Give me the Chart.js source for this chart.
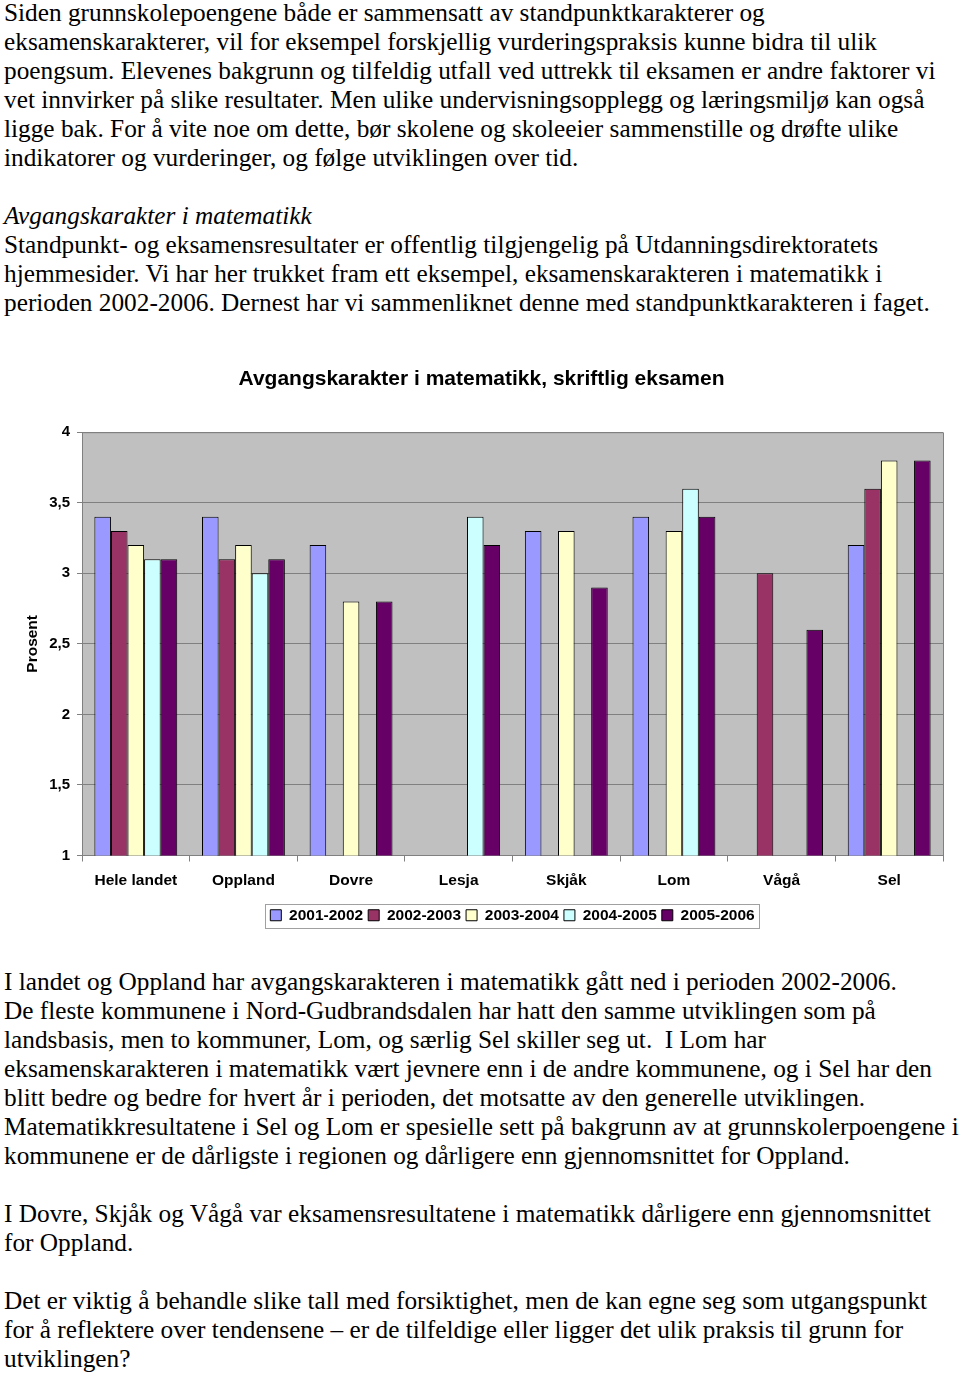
<!DOCTYPE html>
<html>
<head>
<meta charset="utf-8">
<script src="https://cdn.jsdelivr.net/npm/chart.js@4"></script>
<style>
  html, body { margin: 0; padding: 0; background: #fff; }
  body { width: 960px; height: 1373px; position: relative; overflow: hidden; }
  .txt {
    position: absolute; left: 4px;
    font-family: "Liberation Serif", "Times New Roman", serif;
    font-size: 25.3px; line-height: 29px; color: #000;
    white-space: pre;
  }
  #chartBox { position: absolute; left: 0; top: 355px; width: 960px; height: 578px; }
</style>
</head>
<body>
<div class="txt" style="top:-2px">Siden grunnskolepoengene både er sammensatt av standpunktkarakterer og
eksamenskarakterer, vil for eksempel forskjellig vurderingspraksis kunne bidra til ulik
poengsum. Elevenes bakgrunn og tilfeldig utfall ved uttrekk til eksamen er andre faktorer vi
vet innvirker på slike resultater. Men ulike undervisningsopplegg og læringsmiljø kan også
ligge bak. For å vite noe om dette, bør skolene og skoleeier sammenstille og drøfte ulike
indikatorer og vurderinger, og følge utviklingen over tid.

<i>Avgangskarakter i matematikk</i>
Standpunkt- og eksamensresultater er offentlig tilgjengelig på Utdanningsdirektoratets
hjemmesider. Vi har her trukket fram ett eksempel, eksamenskarakteren i matematikk i
perioden 2002-2006. Dernest har vi sammenliknet denne med standpunktkarakteren i faget.</div>

<div id="chartBox"><canvas id="karakterBarra"></canvas></div>

<div class="txt" style="top:967px">I landet og Oppland har avgangskarakteren i matematikk gått ned i perioden 2002-2006.
De fleste kommunene i Nord-Gudbrandsdalen har hatt den samme utviklingen som på
landsbasis, men to kommuner, Lom, og særlig Sel skiller seg ut.  I Lom har
eksamenskarakteren i matematikk vært jevnere enn i de andre kommunene, og i Sel har den
blitt bedre og bedre for hvert år i perioden, det motsatte av den generelle utviklingen.
Matematikkresultatene i Sel og Lom er spesielle sett på bakgrunn av at grunnskolerpoengene i
kommunene er de dårligste i regionen og dårligere enn gjennomsnittet for Oppland.

I Dovre, Skjåk og Vågå var eksamensresultatene i matematikk dårligere enn gjennomsnittet
for Oppland.

Det er viktig å behandle slike tall med forsiktighet, men de kan egne seg som utgangspunkt
for å reflektere over tendensene – er de tilfeldige eller ligger det ulik praksis til grunn for
utviklingen?</div>

<script>
var kommuner = ["Hele landet", "Oppland", "Dovre", "Lesja", "Skjåk", "Lom", "Vågå", "Sel"];
var periode = ["2001-2002", "2002-2003", "2003-2004", "2004-2005", "2005-2006"];
var snitt0102 = [3.4, 3.4, 3.2, null, 3.3, 3.4, null, 3.2];
var snitt0203 = [3.3, 3.1, null, null, null, null, 3.0, 3.6];
var snitt0304 = [3.2, 3.2, 2.8, null, 3.3, 3.3, null, 3.8];
var snitt0405 = [3.1, 3.0, null, 3.4, null, 3.6, null, null];
var snitt0506 = [3.1, 3.1, 2.8, 3.2, 2.9, 3.4, 2.6, 3.8];
var farger = ["#9999FF", "#993366", "#FFFFCC", "#CCFFFF", "#660066"];

var serier = [snitt0102, snitt0203, snitt0304, snitt0405, snitt0506];
var datasets = serier.map(function(verdier, i) {
    return {
        label: periode[i],
        data: verdier,
        backgroundColor: farger[i],
        borderColor: "#000",
        borderWidth: 1,
        borderSkipped: false,
        categoryPercentage: 0.77,
        barPercentage: 1.0
    };
});

var sans = "'Liberation Sans', Arial, sans-serif";

// grå plottbakgrunn, ramme rundt plottet og ramme rundt legenden
var rammer = {
    id: 'rammer',
    beforeDraw: function(chart) {
        var a = chart.chartArea, c = chart.ctx;
        c.save();
        c.fillStyle = "#c0c0c0";
        c.fillRect(a.left, a.top, a.right - a.left, a.bottom - a.top);
        c.restore();
    },
    afterDraw: function(chart) {
        var a = chart.chartArea, c = chart.ctx;
        c.save();
        c.strokeStyle = "#808080";
        c.lineWidth = 1;
        c.beginPath();
        c.moveTo(a.left, a.top + 0.5);
        c.lineTo(a.right + 0.5, a.top + 0.5);
        c.lineTo(a.right + 0.5, a.bottom);
        c.stroke();
        var hb = chart.legend.legendHitBoxes;
        if (hb && hb.length) {
            var x0 = hb[0].left - 5;
            var last = hb[hb.length - 1];
            var x1 = last.left + last.width + 5;
            var y0 = hb[0].top - 4, y1 = hb[0].top + hb[0].height + 4;
            c.strokeStyle = "#a0a0a0";
            c.strokeRect(Math.round(x0) + 0.5, Math.round(y0) + 0.5, Math.round(x1 - x0), Math.round(y1 - y0));
        }
        c.restore();
    }
};

var karakterBarra = document.getElementById("karakterBarra");
var myBarChart = new Chart(karakterBarra, {
    type: 'bar',
    data: {
        labels: kommuner,
        datasets: datasets
    },
    options: {
        responsive: true,
        maintainAspectRatio: false,
        animation: false,
        layout: { padding: { left: 20, right: 17, top: 0, bottom: 0 } },
        plugins: {
            title: {
                display: true,
                text: 'Avgangskarakter i matematikk, skriftlig eksamen',
                color: '#000',
                font: { family: sans, size: 21, weight: 'bold' },
                padding: { top: 12, bottom: 40 }
            },
            legend: {
                display: true,
                position: 'bottom',
                fullSize: false,
                labels: {
                    color: '#000',
                    font: { family: sans, size: 15.5, weight: 'bold' },
                    boxWidth: 11,
                    boxHeight: 11,
                    padding: 5
                }
            },
            tooltip: { enabled: false }
        },
        scales: {
            x: {
                grid: { display: true, drawOnChartArea: false, drawTicks: true, tickLength: 6, color: '#808080', offset: true },
                border: { color: '#808080' },
                ticks: { color: '#000', font: { family: sans, size: 15.5, weight: 'bold' }, padding: 10, maxRotation: 0, autoSkip: false },
                afterFit: function(scale) { scale.height = 47; }
            },
            y: {
                min: 1,
                max: 4,
                grid: { color: '#808080', tickLength: 5 },
                border: { color: '#808080' },
                ticks: {
                    stepSize: 0.5,
                    color: '#000',
                    font: { family: sans, size: 15, weight: 'bold' },
                    padding: 7,
                    callback: function(v) { return String(v).replace('.', ','); }
                },
                title: {
                    display: true,
                    text: 'Prosent',
                    color: '#000',
                    font: { family: sans, size: 15.5, weight: 'bold' },
                    padding: { top: 3, bottom: 0 }
                },
                afterFit: function(scale) { scale.width = 62; }
            }
        }
    },
    plugins: [rammer]
});
</script>
</body>
</html>
